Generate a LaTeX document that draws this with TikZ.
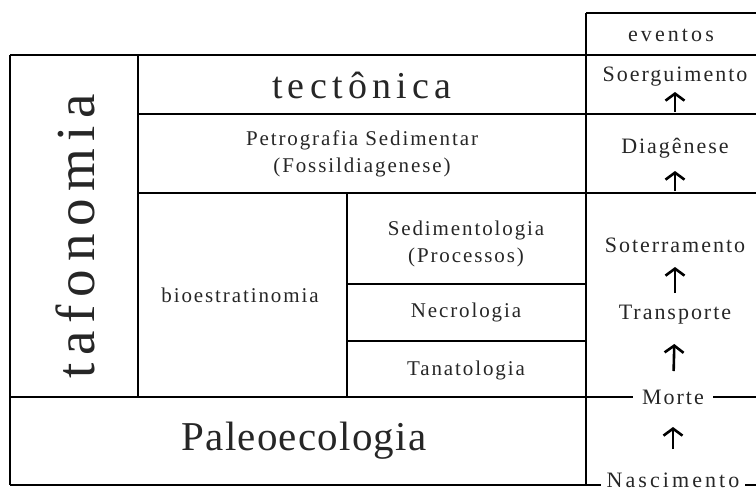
\documentclass[tikz,border=0pt]{standalone}
\usepackage{fontspec}
\setmainfont{Liberation Serif}
\newfontfamily\spaced{Liberation Serif}[LetterSpace=9]
\newfontfamily\tight{Liberation Serif}[LetterSpace=3]
\newfontfamily\wide{Liberation Serif}[LetterSpace=14]
\usetikzlibrary{arrows.meta}

\begin{document}
\begin{tikzpicture}[x=1pt,y=-1pt,
  rule/.style={line width=1.9pt},
  lbl/.style={text=black!85,align=center,inner sep=2pt,font=\spaced\fontsize{21}{27}\selectfont},
  evento/.style={lbl,font=\spaced\fontsize{22}{26}\selectfont},
  evarrow/.style={line width=2.6pt,-{Straight Barb[length=7pt,width=19pt]}}]
\useasboundingbox (0,0) rectangle (756,488);
% linhas da tabela
\draw[rule] (10,55) -- (756,55);
\draw[rule] (586,12.7) -- (756,12.7);
\draw[rule] (138,114) -- (756,114);
\draw[rule] (138,193) -- (756,193);
\draw[rule] (347,284) -- (586,284);
\draw[rule] (347,341) -- (586,341);
\draw[rule] (10,397) -- (756,397);
\draw[rule] (10,485) -- (756,485);
\draw[rule] (10,55) -- (10,485);
\draw[rule] (138,55) -- (138,397);
\draw[rule] (347,193) -- (347,397);
\draw[rule] (586,12.7) -- (586,485);
% disciplinas
\node[lbl,rotate=90,font=\wide\fontsize{55}{60}\selectfont] (tafo) at (75,236) {tafonomia};
\node[lbl,font=\wide\fontsize{38}{44}\selectfont] (tect) at (362,85) {tect\^onica};
\node[lbl] (petro) at (362,154) {Petrografia Sedimentar\\(Fossildiagenese)};
\node[lbl] (bioest) at (240,295) {bioestratinomia};
\node[lbl] (sedim) at (466,244) {Sedimentologia\\(Processos)};
\node[lbl] (necro) at (466,312) {Necrologia};
\node[lbl] (tanato) at (466,370) {Tanatologia};
\node[lbl,font=\tight\fontsize{41}{46}\selectfont] (paleo) at (304,441) {Paleoecologia};
% eventos
\node[evento,font=\wide\fontsize{22}{26}\selectfont] (evts) at (671,35) {eventos};
\node[evento] (soerg) at (675,77) {Soerguimento};
\node[evento] (diag) at (675,148) {Diag\^enese};
\node[evento] (soter) at (675,245) {Soterramento};
\node[evento] (transp) at (675,315) {Transporte};
\node[evento,fill=white,inner xsep=9pt] (morte) at (673,397) {Morte};
\node[evento,fill=white,inner xsep=6pt,font=\wide\fontsize{22}{26}\selectfont] (nasc) at (673,480) {Nascimento};
\draw[evarrow,shorten <=36pt,shorten >=15pt] (diag.center) -- (soerg.center);
\draw[evarrow,shorten <=54pt,shorten >=23pt] (soter.center) -- (diag.center);
\draw[evarrow,shorten <=22pt,shorten >=22pt] (transp.center) -- (soter.center);
\draw[evarrow,shorten <=26pt,shorten >=29pt] (morte.center) -- (transp.center);
\draw[evarrow,shorten <=31pt,shorten >=30pt] (nasc.center) -- (morte.center);
\end{tikzpicture}
\end{document}
